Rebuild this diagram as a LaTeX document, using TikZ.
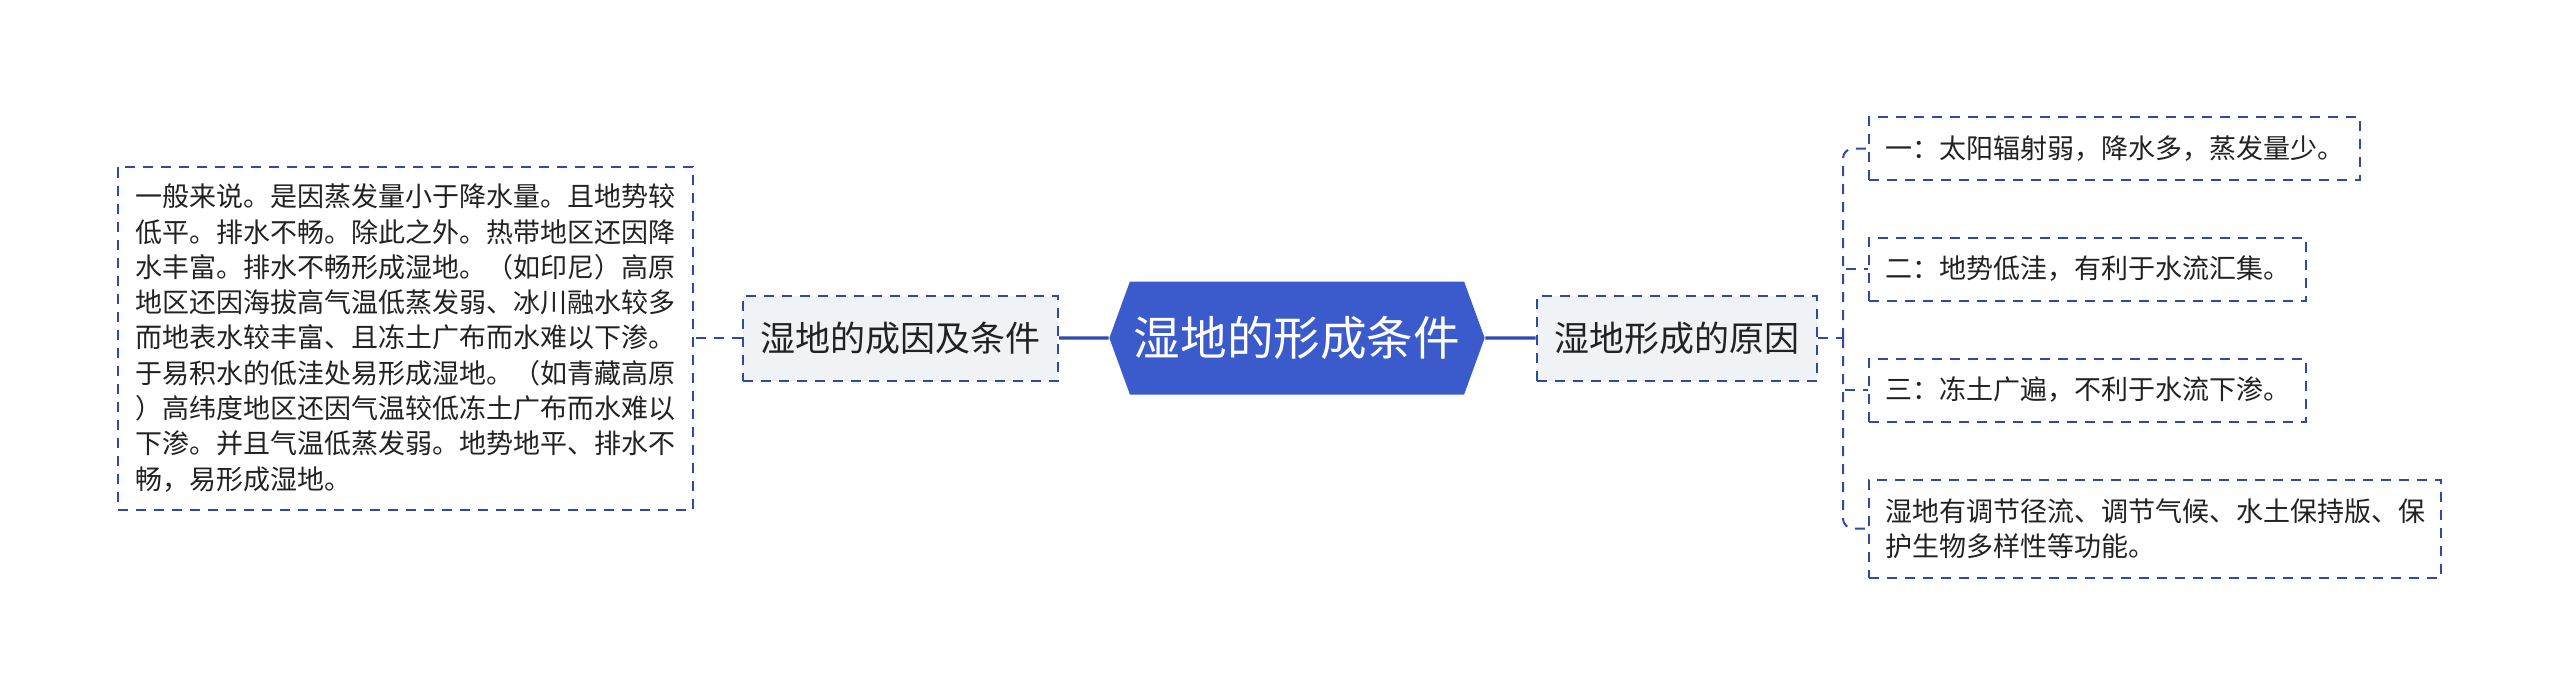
\documentclass[tikz,border=0pt]{standalone}
\usepackage{fontspec}
\setmainfont{Noto Sans CJK SC}
\usetikzlibrary{shapes.symbols}

\definecolor{rootblue}{RGB}{59,91,204}
\definecolor{linkblue}{RGB}{45,74,168}
\definecolor{midgray}{RGB}{240,242,246}
\definecolor{inktext}{RGB}{34,34,34}

\tikzset{every picture/.style={line width=0.75pt},
  dashbox/.style={draw=linkblue, line width=1pt, dash pattern=on 5pt off 4pt, text=inktext},
  leafbox/.style={dashbox, fill=white, anchor=west, align=left, inner xsep=8pt, inner ysep=6pt, font=\fontsize{13.5}{17.65}\selectfont},
  midbox/.style={dashbox, fill=midgray, inner xsep=8.75pt, minimum height=42.5pt, font=\fontsize{17.5}{21}\selectfont},
  rootbox/.style={signal, signal to=west and east, signal pointer angle=140, fill=rootblue, text=white, minimum height=56.5pt, inner xsep=2pt, font=\fontsize{23.3}{28}\selectfont},
  trunk/.style={draw=linkblue, line width=1.6pt},
  link/.style={draw=linkblue, line width=1pt, dash pattern=on 5pt off 4pt}
}

\begin{document}
\begin{tikzpicture}[x=0.5pt,y=0.5pt,yscale=-1,xscale=1]
\useasboundingbox (0,0) rectangle (2560,696);

% Root Node
\node (root) at (1297,338) [rootbox] {湿地的形成条件};
% Branch Nodes
\node (cause) at (900.5,338) [midbox] {湿地的成因及条件};
\node (reason) at (1676.5,338) [midbox] {湿地形成的原因};

% Text Node
\node (explain) at (405,338) [leafbox, anchor=center, minimum height=171.5pt, inner xsep=8.75pt] {一般来说。是因蒸发量小于降水量。且地势较\\低平。排水不畅。除此之外。热带地区还因降\\水丰富。排水不畅形成湿地。（如印尼）高原\\地区还因海拔高气温低蒸发弱、冰川融水较多\\而地表水较丰富、且冻土广布而水难以下渗。\\于易积水的低洼处易形成湿地。（如青藏高原\\）高纬度地区还因气温较低冻土广布而水难以\\下渗。并且气温低蒸发弱。地势地平、排水不\\畅，易形成湿地。};
% Text Node
\node (one) at (1868,148.5) [leafbox, minimum height=31.5pt] {一：太阳辐射弱，降水多，蒸发量少。};
% Text Node
\node (two) at (1868,269) [leafbox, minimum height=31.5pt] {二：地势低洼，有利于水流汇集。};
% Text Node
\node (three) at (1868,390) [leafbox, minimum height=31.5pt] {三：冻土广遍，不利于水流下渗。};
% Text Node
\node (four) at (1868,528.5) [leafbox, minimum height=49pt] {湿地有调节径流、调节气候、水土保持版、保\\护生物多样性等功能。};

\coordinate (fork) at (1843,338);

% Connectors
\draw [trunk] (cause) -- (root);
\draw [trunk] (root) -- (reason);
\draw [link] (cause) -- (explain);
\draw [link] (reason) -- (fork);
\draw [link, rounded corners=5pt] (fork) |- (one);
\draw [link] (fork) |- (two);
\draw [link] (fork) |- (three);
\draw [link, rounded corners=5pt] (fork) |- (four);

\end{tikzpicture}
\end{document}
